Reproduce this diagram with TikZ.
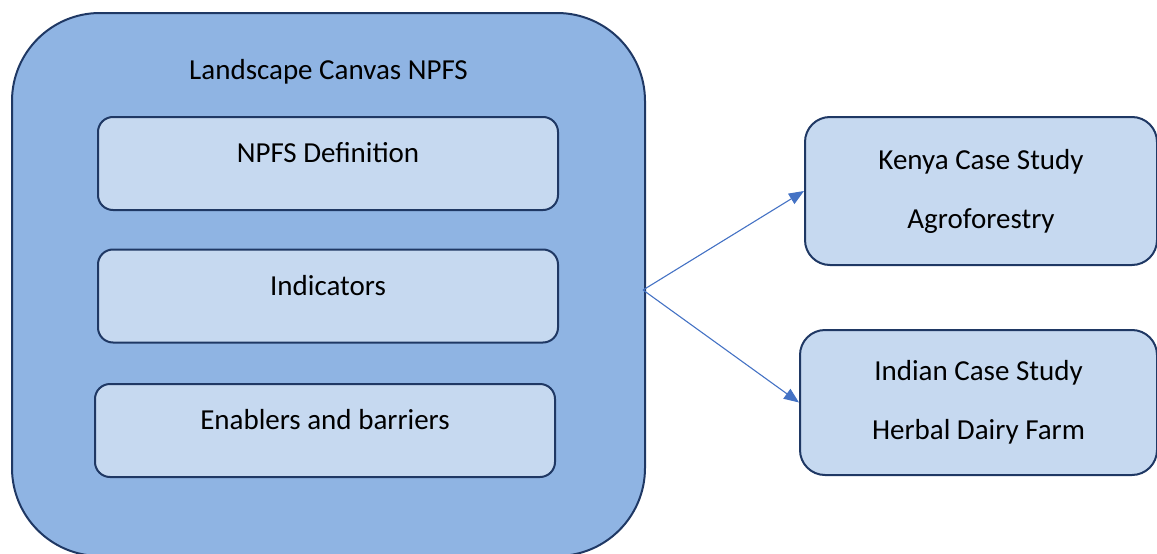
\documentclass[tikz,border=0pt]{standalone}
\usepackage{fontspec}
\setmainfont{Carlito}
\usetikzlibrary{arrows.meta}
\definecolor{canvasblue}{HTML}{8FB4E3}
\definecolor{boxblue}{HTML}{C6D9F0}
\definecolor{edgenavy}{HTML}{1F3864}
\definecolor{arrowblue}{HTML}{4472C4}

\begin{document}
\begin{tikzpicture}[x=1pt, y=-1pt, font=\fontsize{29}{35}\selectfont,
	canvasbox/.style={draw=edgenavy, line width=2pt, fill=canvasblue, rounded corners=88pt,
		minimum width=633pt, minimum height=543pt},
	inbox/.style={draw=edgenavy, line width=2pt, fill=boxblue, rounded corners=15pt,
		minimum width=460pt, minimum height=93pt, text height=22pt, text depth=24pt},
	casebox/.style={draw=edgenavy, line width=2pt, fill=boxblue, rounded corners=25pt,
		align=center, inner sep=0pt},
	link/.style={draw=arrowblue, line width=1.1pt, -{Triangle[length=15pt, width=12pt]}}]
	\useasboundingbox (0, 0) rectangle (1157, 554);
	\node[canvasbox](canvas) at (328.5, 284.5){};
	\node(title) at (328.5, 72){Landscape Canvas NPFS};
	\node[inbox](def) at (328, 163.5){NPFS Definition};
	\node[inbox](ind) at (328, 296){Indicators};
	\node[inbox](enab) at (325, 430.5){Enablers and barriers};
	\node[casebox, minimum width=352pt, minimum height=148pt](kenya) at (981, 191)
		{Kenya Case Study\\[24pt]Agroforestry};
	\node[casebox, minimum width=357pt, minimum height=145pt](india) at (978.5, 402.5)
		{Indian Case Study\\[24pt]Herbal Dairy Farm};
	\coordinate(hub) at (643, 290);
	\draw[link] (hub) -- (kenya.west);
	\draw[link] (hub) -- (india.west);
\end{tikzpicture}
\end{document}
